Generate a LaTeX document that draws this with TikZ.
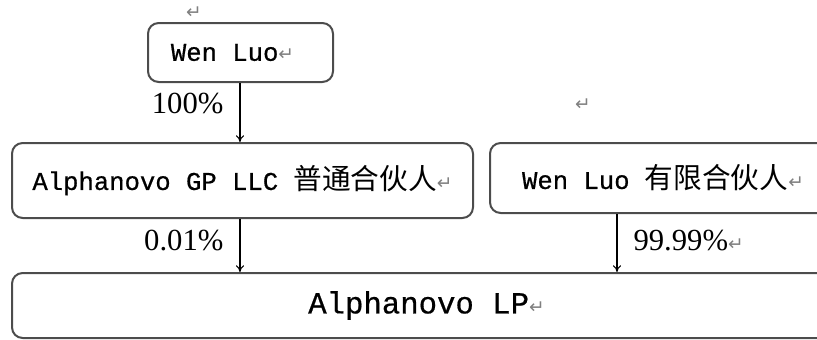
\documentclass[tikz,border=0pt]{standalone}
\usepackage{fontspec}
\setmainfont{Liberation Serif}
\setmonofont[FakeBold=0.6]{Liberation Mono}
\newfontfamily\cjk{Noto Sans CJK SC}
\newfontfamily\markfont{DejaVu Sans}
\usetikzlibrary{arrows.meta, positioning}

\newcommand{\pmark}{{\markfont\color{black!50}\fontsize{14}{14}\selectfont ↵}}
\newcommand{\zh}[1]{{\cjk\fontsize{21.5}{22}\selectfont #1}}

\begin{document}
\begin{tikzpicture}[x=0.75pt,y=-0.75pt,>={To[length=5pt,width=6pt]},
  box/.style={draw=black!70,line width=1.5pt,rounded corners=8pt,inner sep=0pt,font=\ttfamily\fontsize{19.2}{22}\selectfont},
  pct/.style={inner sep=0pt,font=\fontsize{23}{23}\selectfont},
  link/.style={->,line width=0.8pt}]
  \useasboundingbox (0,0) rectangle (817,339);
  \clip (0,0) rectangle (817,339);
  % owners
  \node[box,minimum width=138.75pt,minimum height=44.25pt] (wen) at (240.5,52.5) {Wen Luo\pmark\kern12pt};
  \node[box,minimum width=345.75pt,minimum height=56.25pt] (gp) at (242.5,180.5) {Alphanovo GP LLC \zh{普通合伙人}\pmark};
  \node[box,minimum width=259.5pt,minimum height=52.5pt] (wenlp) at (663,178) {Wen Luo \zh{有限合伙人}\pmark};
  % fund
  \node[box,minimum width=621.75pt,minimum height=48.75pt,font=\ttfamily\fontsize{23}{24}\selectfont] (lp) at (426.5,305.5) {Alphanovo LP\pmark};
  % stray paragraph marks
  \node[inner sep=0pt] (mark1) at (194,13) {\pmark};
  \node[inner sep=0pt] (mark2) at (583,105) {\pmark};
  % shares
  \draw[link] ([xshift=-0.4pt]wen.south) -- node[pct,pos=0.35,left=12pt] (p100) {100\%} ([xshift=-0.4pt]wen.south |- gp.north);
  \draw[link] ([xshift=-1.9pt]gp.south) -- node[pct,pos=0.4,left=12pt] (p001) {0.01\%} ([xshift=-1.9pt]gp.south |- lp.north);
  \draw[link] ([xshift=-34.5pt]wenlp.south) -- node[pct,pos=0.45,right=12pt] (p9999) {99.99\%\pmark} ([xshift=-34.5pt]wenlp.south |- lp.north);
\end{tikzpicture}
\end{document}
